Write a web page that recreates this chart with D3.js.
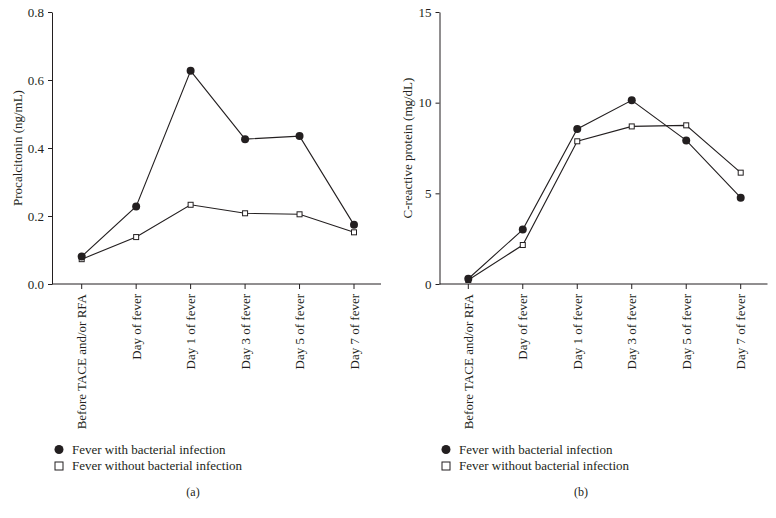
<!DOCTYPE html>
<html><head><meta charset="utf-8">
<script src="https://cdn.jsdelivr.net/npm/d3@7/dist/d3.min.js"></script>
<style>body{margin:0;background:#fff}svg{display:block}text{font-family:"Liberation Serif","DejaVu Serif",serif;fill:#231f20}</style>
</head><body><svg id="c" width="776" height="518"></svg>
<script>
const categories = ["Before TACE and/or RFA","Day of fever","Day 1 of fever","Day 3 of fever","Day 5 of fever","Day 7 of fever"];
const pctWith = [0.081,0.228,0.627,0.426,0.435,0.174];
const pctWithout = [0.073,0.138,0.233,0.208,0.205,0.152];
const crpWith = [0.29,3.0,8.55,10.13,7.92,4.76];
const crpWithout = [0.22,2.15,7.87,8.69,8.75,6.14];
const pctTicks = [0.0,0.2,0.4,0.6,0.8];
const crpTicks = [0,5,10,15];
const legendLabels = ["Fever with bacterial infection","Fever without bacterial infection"];

const svg = d3.select("#c");
const plotTop = 12, plotBottom = 284;

function panel(opt){
  const g = svg.append("g");
  const x = d3.scalePoint().domain(categories).range([opt.x0, opt.x1]);
  const y = d3.scaleLinear().domain(opt.domain).range([plotBottom, plotTop]);
  const ya = g.append("g").attr("transform",`translate(${opt.ax},0)`)
    .call(d3.axisLeft(y).tickValues(opt.ticks).tickFormat(opt.fmt).tickSize(4).tickPadding(4).tickSizeOuter(0));
  ya.select(".domain").attr("stroke","#231f20");
  ya.selectAll(".tick line").attr("stroke","#231f20");
  ya.selectAll(".tick text").style("font-size","13px").style("fill","#231f20").style("font-family",'"Liberation Serif","DejaVu Serif",serif');
  const xa = g.append("g").attr("transform",`translate(0,${plotBottom})`);
  xa.append("line").attr("x1",opt.ax).attr("x2",opt.xend).attr("stroke","#231f20");
  const xt = xa.selectAll("g.t").data(categories).join("g").attr("transform",d=>`translate(${x(d)},0)`);
  xt.append("line").attr("y2",5).attr("stroke","#231f20");
  xt.append("text").attr("transform","rotate(-90)").attr("x",-10).attr("dy","0.35em")
    .attr("text-anchor","end").style("font-size","13px").text(d=>d);
  g.append("text").attr("transform",`translate(${opt.lx},${(plotTop+plotBottom)/2}) rotate(-90)`)
    .attr("text-anchor","middle").attr("dy","0.35em").style("font-size","13px").text(opt.label);
  const line = d3.line().x((d,i)=>x(categories[i])).y(d=>y(d));
  g.append("path").datum(opt.without).attr("d",line).attr("fill","none").attr("stroke","#231f20").attr("stroke-width",1.1);
  g.append("path").datum(opt.with).attr("d",line).attr("fill","none").attr("stroke","#231f20").attr("stroke-width",1.1);
  g.selectAll("rect.m").data(opt.without).join("rect").attr("class","m")
    .attr("x",(d,i)=>x(categories[i])-2.5).attr("y",d=>y(d)-2.5).attr("width",5).attr("height",5)
    .attr("fill","#fff").attr("stroke","#231f20").attr("stroke-width",1);
  g.selectAll("circle.m").data(opt.with).join("circle").attr("class","m")
    .attr("cx",(d,i)=>x(categories[i])).attr("cy",d=>y(d)).attr("r",4).attr("fill","#231f20");
  const lg = g.append("g");
  lg.append("circle").attr("cx",opt.legx).attr("cy",449.5).attr("r",4.5).attr("fill","#231f20");
  lg.append("rect").attr("x",opt.legx-4).attr("y",462).attr("width",8).attr("height",8).attr("fill","#fff").attr("stroke","#231f20");
  lg.selectAll("text").data(legendLabels).join("text").attr("x",opt.legx+13).attr("y",(d,i)=>449.5+i*16.3)
    .attr("dy","0.35em").style("font-size","13px").text(d=>d);
  g.append("text").attr("x",opt.capx).attr("y",492).attr("dy","0.35em").attr("text-anchor","middle").style("font-size","12px").text(opt.cap);
}

panel({x0:81.7,x1:354,ax:52,xend:381,domain:[0,0.8],ticks:pctTicks,fmt:d3.format(".1f"),lx:17,label:"Procalcitonin (ng/mL)",with:pctWith,without:pctWithout,legx:59,capx:193,cap:"(a)"});
panel({x0:468.3,x1:740.7,ax:439.5,xend:767.5,domain:[0,15],ticks:crpTicks,fmt:d3.format("d"),lx:407,label:"C-reactive protein (mg/dL)",with:crpWith,without:crpWithout,legx:446,capx:581,cap:"(b)"});
</script></body></html>
